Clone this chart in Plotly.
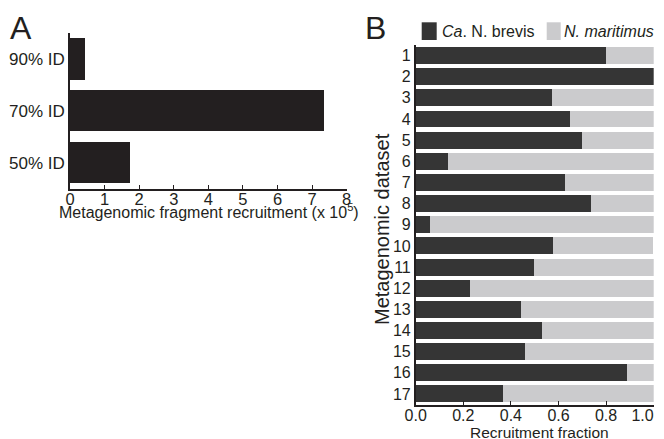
import plotly.graph_objects as go

# Panel A data
id_levels = ["90% ID", "70% ID", "50% ID"]
recruitment = [0.44, 7.33, 1.73]  # x 10^5

# Panel B data
datasets = [str(i) for i in range(1, 18)]
brevis_frac = [0.80, 1.00, 0.573, 0.648, 0.699, 0.136, 0.627, 0.737, 0.06,
               0.577, 0.497, 0.228, 0.443, 0.532, 0.459, 0.888, 0.367]
maritimus_frac = [0.20, 0.00, 0.427, 0.352, 0.301, 0.864, 0.373, 0.263, 0.94,
                  0.419, 0.503, 0.772, 0.557, 0.468, 0.541, 0.112, 0.633]
series_names = ["<i>Ca</i>. N. brevis", "<i>N. maritimus</i>"]
series_colors = ["#353535", "#cbcbcd"]
frac_ticks = [0, 0.2, 0.4, 0.6, 0.8, 1.0]
frac_labels = ["0.0", "0.2", "0.4", "0.6", "0.8", "1.0"]

# page body has an 8px margin: work in screen pixels and convert
OFF = 8
FW, FH = 664, 439
FONT = "Liberation Sans, Arial, Helvetica, sans-serif"
TXT = "#231f20"

def px_x(p):
    return (p - OFF) / FW

def px_y(p):
    return 1 - (p - OFF) / FH

fig = go.Figure()

fig.add_trace(go.Bar(
    y=id_levels, x=recruitment, orientation="h",
    marker=dict(color="#231f20", line=dict(width=0)),
    xaxis="x", yaxis="y", showlegend=False,
))
for vals, nm, col in zip([brevis_frac, maritimus_frac], series_names, series_colors):
    fig.add_trace(go.Bar(
        y=datasets, x=vals, orientation="h",
        marker=dict(color=col, line=dict(width=0)),
        name=nm, xaxis="x2", yaxis="y2", showlegend=False,
    ))

axis_common = dict(
    showline=True, linecolor=TXT, linewidth=1.5, showgrid=False, zeroline=False,
    automargin=False, ticklabeloverflow="allow",
)

def ann(text, x, y, size, **kw):
    d = dict(text=text, x=px_x(x), y=px_y(y), xref="paper", yref="paper",
             showarrow=False, font=dict(family=FONT, size=size, color=TXT))
    d.update(kw)
    return d

annotations = [
    ann("A", 8, 8, 32, xanchor="left", yanchor="top"),
    ann("B", 363, 8, 32, xanchor="left", yanchor="top"),
    ann("Metagenomic fragment recruitment (x 10<sup>5</sup>)", 209, 211, 16,
        xanchor="center", yanchor="middle"),
    ann("Recruitment fraction", 539, 432, 15.5, xanchor="center", yanchor="middle"),
    ann("Metagenomic dataset", 382, 229, 20, xanchor="center", yanchor="middle",
        textangle=-90),
    ann(series_names[0], 440, 31.5, 16, xanchor="left", yanchor="middle"),
    ann(series_names[1], 562, 31.5, 16, xanchor="left", yanchor="middle"),
]

shapes = [
    dict(type="rect", xref="paper", yref="paper", x0=px_x(421.7), x1=px_x(436.7),
         y0=px_y(40), y1=px_y(22.3), fillcolor=series_colors[0], line=dict(width=0)),
    dict(type="rect", xref="paper", yref="paper", x0=px_x(546.7), x1=px_x(560.7),
         y0=px_y(40), y1=px_y(22.3), fillcolor=series_colors[1], line=dict(width=0)),
]

# last label nudged inward (as in the original) so it stays inside the page
tick_text = frac_labels[:-1] + [frac_labels[-1] + "\u00a0" * 5]

fig.update_layout(
    width=FW, height=FH,
    margin=dict(l=0, r=0, t=0, b=0, autoexpand=False),
    paper_bgcolor="white", plot_bgcolor="white",
    barmode="stack", bargap=0.2,
    font=dict(family=FONT, color=TXT),
    showlegend=False,
    xaxis=dict(
        domain=[px_x(70), px_x(346.7)], range=[0, 8], anchor="y",
        tickvals=list(range(0, 9)), ticks="inside", ticklen=4, tickwidth=1.2,
        tickcolor=TXT, ticklabelstandoff=-5,
        tickfont=dict(family=FONT, size=16.5, color=TXT),
        **axis_common,
    ),
    yaxis=dict(
        domain=[px_y(188.5), px_y(33)], anchor="x",
        categoryorder="array", categoryarray=id_levels[::-1],
        ticks="", ticklabelstandoff=0,
        tickfont=dict(family=FONT, size=17, color=TXT),
        **axis_common,
    ),
    xaxis2=dict(
        domain=[px_x(415.7), px_x(653.7)], range=[0, 1.0], anchor="y2",
        tickvals=frac_ticks, ticktext=tick_text,
        ticks="inside", ticklen=4, tickwidth=1.2, tickcolor=TXT,
        ticklabelstandoff=-4,
        tickfont=dict(family=FONT, size=16, color=TXT),
        **axis_common,
    ),
    yaxis2=dict(
        domain=[px_y(404.5), px_y(45)], anchor="x2",
        categoryorder="array", categoryarray=datasets[::-1],
        ticks="", ticklabelstandoff=0,
        tickfont=dict(family=FONT, size=16, color=TXT),
        **axis_common,
    ),
    annotations=annotations,
    shapes=shapes,
)

fig.write_html("out.html")
